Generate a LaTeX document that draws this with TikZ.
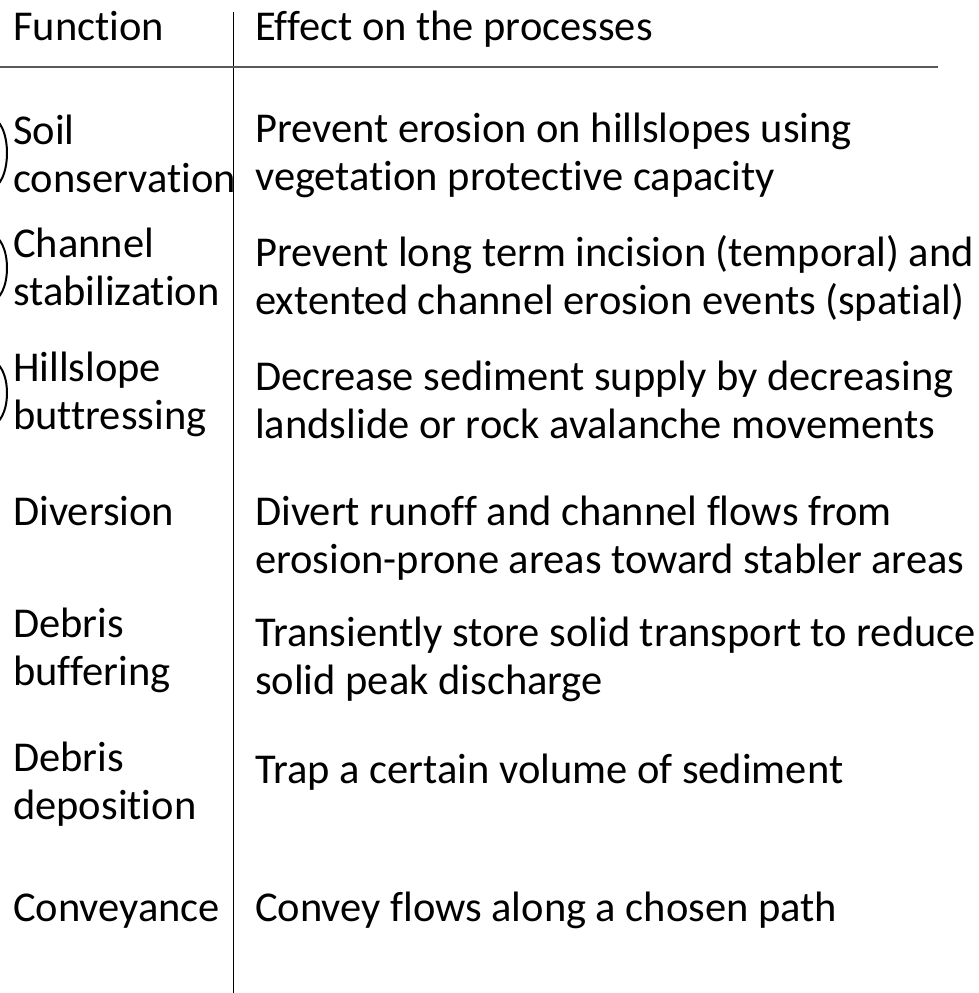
\documentclass[tikz,border=0pt]{standalone}
\usepackage{fontspec}
\setmainfont{Carlito}[Ligatures=CommonOff]
\usetikzlibrary{positioning}

\begin{document}
\begin{tikzpicture}[x=1bp, y=-1bp,
    cell/.style={anchor=base west, inner sep=0, align=left, font=\fontsize{42.5bp}{48.5bp}\selectfont},
    rule/.style={line width=2bp, black!65},
    sep/.style={line width=1bp, black}]
        \useasboundingbox (0,0) rectangle (979,993);
        \clip (0,0) rectangle (979,993);

        \node[cell] (fhead) at (13,40) {Function};
        \node[cell] (ehead) at (255,40) {Effect on the processes};

        % base anchor sits on the last line
        \node[cell] (f1) at (13,192.5) {Soil\\conservation};
        \node[cell] (e1) at (255,190.5) {Prevent erosion on hillslopes using\\vegetation protective capacity};
        \node[cell] (f2) at (13,305.5) {Channel\\stabilization};
        \node[cell] (e2) at (255,314.5) {Prevent long term incision (temporal) and\\extented channel erosion events (spatial)};
        \node[cell] (f3) at (13,429.5) {Hillslope\\buttressing};
        \node[cell] (e3) at (255,438.5) {Decrease sediment supply by decreasing\\landslide or rock avalanche movements};
        \node[cell] (f4) at (13,525) {Diversion};
        \node[cell] (e4) at (255,573.5) {Divert runoff and channel flows from\\erosion-prone areas toward stabler areas};
        \node[cell] (f5) at (13,685.5) {Debris\\buffering};
        \node[cell] (e5) at (255,694.5) {Transiently store solid transport to reduce\\solid peak discharge};
        \node[cell] (f6) at (13,819.5) {Debris\\deposition};
        \node[cell] (e6) at (255,783) {Trap a certain volume of sediment};
        \node[cell] (f7) at (13,921) {Conveyance};
        \node[cell] (e7) at (255,921) {Convey flows along a chosen path};

        % table rules
        \coordinate (top) at (233,12);
        \coordinate (bot) at (233,993);
        \draw[sep] (top) -- (bot);
        \draw[rule] (0,67) -- (938,67);

        % cut circles on the left edge
        \draw[line width=2bp] (-9,153) ellipse [x radius=16, y radius=35];
        \draw[line width=2bp] (-9,268) ellipse [x radius=16, y radius=33];
        \draw[line width=2bp] (-9,393) ellipse [x radius=16, y radius=32];
    \end{tikzpicture}
\end{document}
